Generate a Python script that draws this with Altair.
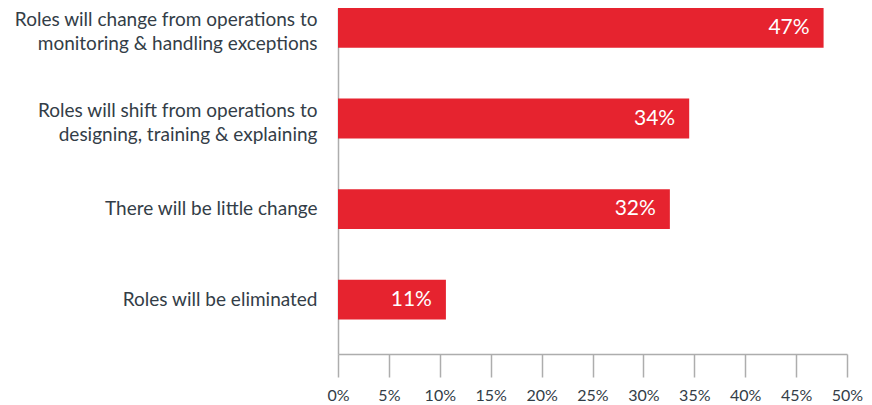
import altair as alt
import pandas as pd

categories = [
    "Roles will change from operations to|monitoring & handling exceptions",
    "Roles will shift from operations to|designing, training & explaining",
    "There will be little change",
    "Roles will be eliminated",
]
values = [47.7, 34.5, 32.6, 10.6]
labels = ["47%", "34%", "32%", "11%"]
tick_values = [0, 5, 10, 15, 20, 25, 30, 35, 40, 45, 50]

df = pd.DataFrame({"cat": categories, "val": values, "lab": labels})

RED = "#E6232F"
TXT = "#333D47"
AX = "#ADADAD"

y = alt.Y(
    "cat:N",
    sort=categories,
    title=None,
    scale=alt.Scale(paddingInner=0.56, paddingOuter=0.19, align=0),
    axis=alt.Axis(
        labelExpr="split(datum.label, '|')",
        labelFont="Lato",
        labelFontSize=19,
        labelColor=TXT,
        labelLineHeight=24,
        labelPadding=21,
        labelLimit=400,
        labelOffset={"condition": {"test": "indexof(datum.value, '|') >= 0", "value": -8}, "value": 0},
        ticks=False,
        domainColor=AX,
        domainWidth=1.5,
        grid=False,
    ),
)
x = alt.X(
    "val:Q",
    title=None,
    scale=alt.Scale(domain=[0, 50], nice=False),
    axis=alt.Axis(
        values=tick_values,
        labelExpr="datum.value + '%'",
        labelFont="Lato",
        labelFontSize=16,
        labelColor=TXT,
        tickSize=23,
        tickColor=AX,
        tickWidth=1.5,
        domainColor=AX,
        domainWidth=1.5,
        labelPadding=10,
        grid=False,
        labelFlush=False,
    ),
)

bars = alt.Chart(df).mark_bar(color=RED).encode(y=y, x=x)
text = alt.Chart(df).mark_text(
    align="right", baseline="middle", dx=-14, color="white", font="Lato", fontSize=21
).encode(y=alt.Y("cat:N", sort=categories), x="val:Q", text="lab:N")

chart = (
    (bars + text)
    .properties(
        width=509,
        height=346,
        autosize=alt.AutoSizeParams(type="none"),
        padding={"left": 330, "top": 0, "right": 17, "bottom": 50},
    )
    .configure_view(stroke=None)
)

chart.save("out.html", embed_options={"renderer": "svg", "actions": False})
